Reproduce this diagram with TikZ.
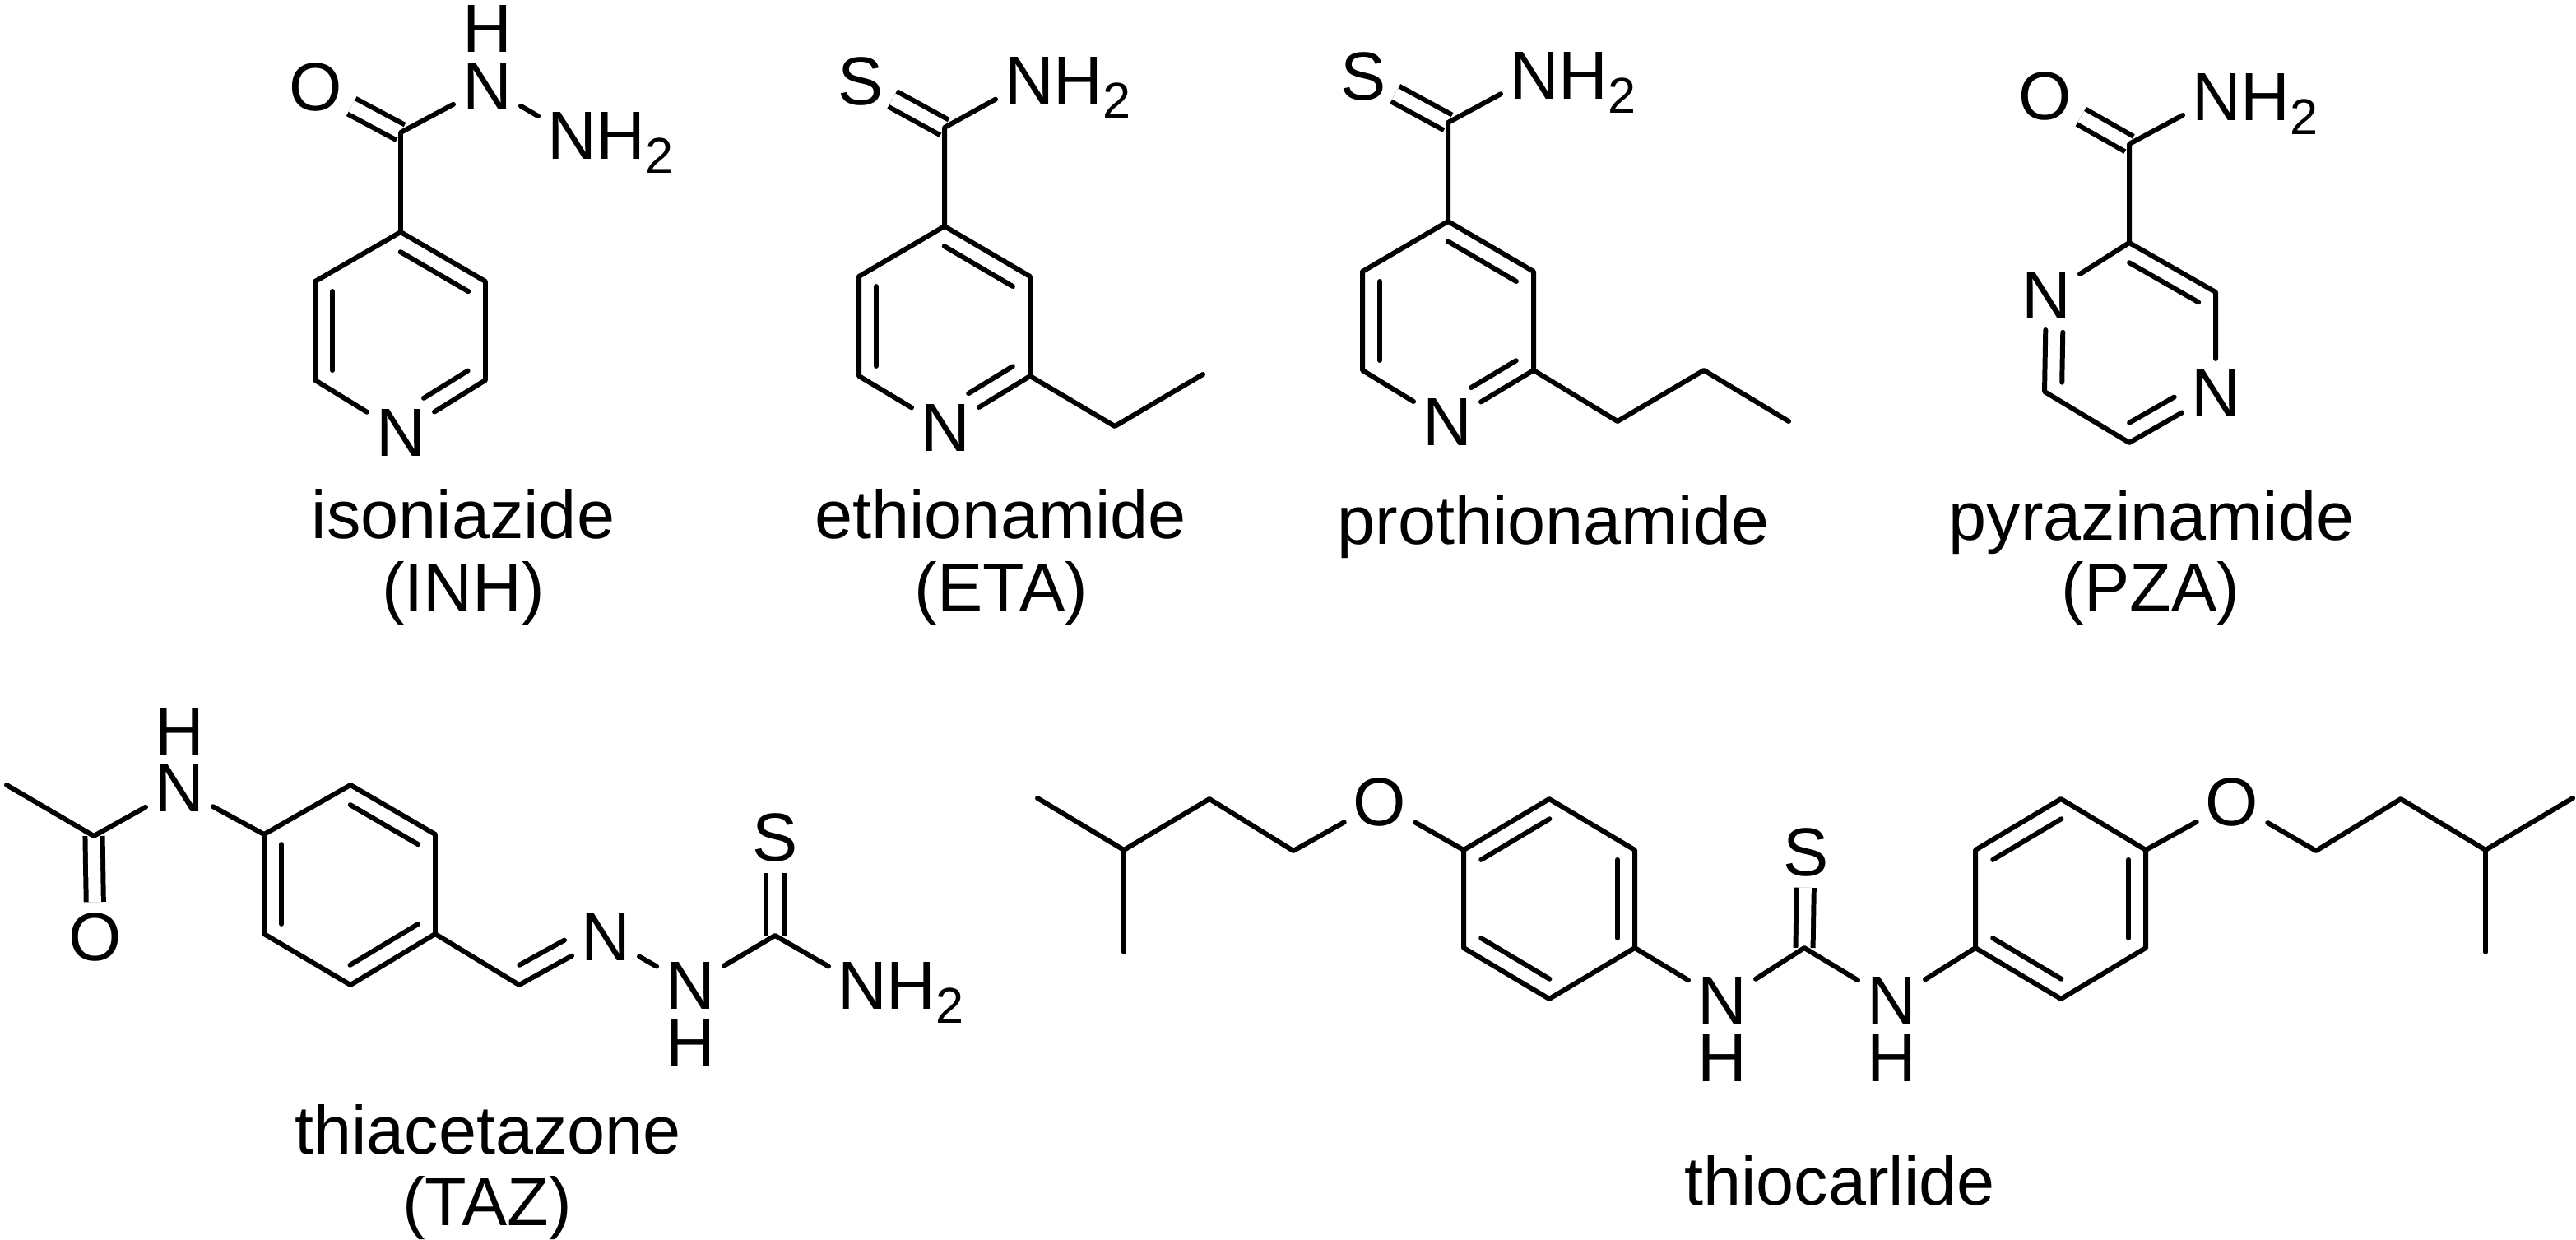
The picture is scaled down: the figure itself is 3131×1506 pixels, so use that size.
\documentclass[tikz,border=0pt]{standalone}
\usepackage{fontspec}
\setmainfont{Liberation Sans}
\usetikzlibrary{calc}
\newcommand*{\subtwo}{\smash{\raisebox{-0.17cm}{\fontsize{17.4pt}{18pt}\selectfont 2}}}
\newcommand*{\amine}{N\rlap{H\subtwo}}
% inner line of a ring bond, walking clockwise from #1 to #2
\newcommand*{\inbond}[4]{\draw ($(#1)!#3!(#2)!0.21cm!-90:(#2)$) -- ($(#2)!#4!(#1)!0.21cm!90:(#1)$);}

\begin{document}
\begin{tikzpicture}[x=0.01cm,y=-0.01cm,line width=1.7pt,line cap=round,line join=round,
      atom/.style={inner xsep=2.3pt,inner ysep=3pt,font=\fontsize{23.55pt}{26pt}\selectfont},
      caption/.style={anchor=base,inner sep=0pt,font=\fontsize{23.55pt}{26pt}\selectfont},
      dbl/.style={line cap=butt,double,double distance=4.3pt}]
      \useasboundingbox (0,0) rectangle (3131,1506);

      % isoniazide
      \coordinate (inh_1) at (487,282);  \coordinate (inh_2) at (590,342);
      \coordinate (inh_3) at (590,462);  \coordinate (inh_5) at (383,462);
      \coordinate (inh_6) at (383,342);  \coordinate (inh_c) at (487,161);
      \node[atom] (inh_4) at (487,526) {N};
      \node[atom] (inh_o) at (384,106) {O};
      \node[atom] (inh_n) at (592,105) {N};
      \node[atom] (inh_h) at (592,35) {H};
      \node[atom] (inh_a) at (695,165) {\amine};
      \draw[dbl] (inh_c) -- (inh_o);
      \draw (inh_6) -- (inh_1) -- (inh_2) -- (inh_3) -- (inh_4) -- (inh_5) -- (inh_6);
      \draw (inh_1) -- (inh_c) -- (inh_n) -- (inh_a);
      \inbond{inh_1}{inh_2}{.1}{.1}
      \inbond{inh_3}{inh_4}{.1}{.38}
      \inbond{inh_5}{inh_6}{.1}{.1}
      \node[caption] (inh_name) at (563,654) {isoniazide};
      \node[caption] (inh_abbr) at (563,742) {(INH)};

      % ethionamide
      \coordinate (eta_1) at (1148,275);  \coordinate (eta_2) at (1252,336);
      \coordinate (eta_3) at (1252,457);  \coordinate (eta_5) at (1044,457);
      \coordinate (eta_6) at (1044,336);  \coordinate (eta_c) at (1148,155);
      \coordinate (eta_7) at (1355,518);  \coordinate (eta_8) at (1462,455);
      \node[atom] (eta_4) at (1149,520) {N};
      \node[atom] (eta_s) at (1046,99) {S};
      \node[atom] (eta_a) at (1251,98) {\amine};
      \draw[dbl] (eta_c) -- (eta_s);
      \draw (eta_6) -- (eta_1) -- (eta_2) -- (eta_3) -- (eta_4) -- (eta_5) -- (eta_6);
      \draw (eta_1) -- (eta_c) -- (eta_a);
      \draw (eta_3) -- (eta_7) -- (eta_8);
      \inbond{eta_1}{eta_2}{.1}{.1}
      \inbond{eta_3}{eta_4}{.1}{.38}
      \inbond{eta_5}{eta_6}{.1}{.1}
      \node[caption] (eta_name) at (1216,654) {ethionamide};
      \node[caption] (eta_abbr) at (1217,742) {(ETA)};

      % prothionamide
      \coordinate (pto_1) at (1760,269);  \coordinate (pto_2) at (1864,330);
      \coordinate (pto_3) at (1864,450);  \coordinate (pto_5) at (1656,450);
      \coordinate (pto_6) at (1656,330);  \coordinate (pto_c) at (1760,149);
      \coordinate (pto_7) at (1966,512);  \coordinate (pto_8) at (2071,450);
      \coordinate (pto_9) at (2174,512);
      \node[atom] (pto_4) at (1759,513) {N};
      \node[atom] (pto_s) at (1657,93) {S};
      \node[atom] (pto_a) at (1865,92) {\amine};
      \draw[dbl] (pto_c) -- (pto_s);
      \draw (pto_6) -- (pto_1) -- (pto_2) -- (pto_3) -- (pto_4) -- (pto_5) -- (pto_6);
      \draw (pto_1) -- (pto_c) -- (pto_a);
      \draw (pto_3) -- (pto_7) -- (pto_8) -- (pto_9);
      \inbond{pto_1}{pto_2}{.1}{.1}
      \inbond{pto_3}{pto_4}{.1}{.38}
      \inbond{pto_5}{pto_6}{.1}{.1}
      \node[caption] (pto_name) at (1888,661) {prothionamide};

      % pyrazinamide
      \coordinate (pza_1) at (2588,295);  \coordinate (pza_2) at (2693,355);
      \coordinate (pza_4) at (2588,538);  \coordinate (pza_5) at (2485,476);
      \coordinate (pza_c) at (2588,175);
      \node[atom] (pza_3) at (2693,478) {N};
      \node[atom] (pza_6) at (2487,359) {N};
      \node[atom] (pza_o) at (2486,117) {O};
      \node[atom] (pza_a) at (2694,118) {\amine};
      \draw[dbl] (pza_c) -- (pza_o);
      \draw (pza_6) -- (pza_1) -- (pza_2) -- (pza_3) -- (pza_4) -- (pza_5) -- (pza_6);
      \draw (pza_1) -- (pza_c) -- (pza_a);
      \inbond{pza_1}{pza_2}{.1}{.1}
      \inbond{pza_3}{pza_4}{.38}{.1}
      \inbond{pza_5}{pza_6}{.1}{.38}
      \node[caption] (pza_name) at (2615,656) {pyrazinamide};
      \node[caption] (pza_abbr) at (2614,742) {(PZA)};

      % thiacetazone
      \coordinate (taz_1) at (426,954);   \coordinate (taz_2) at (529,1014);
      \coordinate (taz_3) at (529,1135);  \coordinate (taz_4) at (426,1197);
      \coordinate (taz_5) at (321,1135);  \coordinate (taz_6) at (321,1014);
      \coordinate (taz_c) at (114,1016);  \coordinate (taz_me) at (8,954);
      \coordinate (taz_ch) at (631,1197); \coordinate (taz_t) at (942,1137);
      \node[atom] (taz_n) at (218,958) {N};
      \node[atom] (taz_h) at (218,889) {H};
      \node[atom] (taz_o) at (116,1139) {O};
      \node[atom] (taz_im) at (736,1139) {N};
      \node[atom] (taz_nn) at (839,1198) {N};
      \node[atom] (taz_nh) at (839,1268) {H};
      \node[atom] (taz_s) at (942,1018) {S};
      \node[atom] (taz_a) at (1048,1198) {\amine};
      \draw[dbl] (taz_c) -- (taz_o);
      \draw[dbl] (taz_t) -- (taz_s);
      \draw (taz_1) -- (taz_2) -- (taz_3) -- (taz_4) -- (taz_5) -- (taz_6) -- cycle;
      \draw (taz_6) -- (taz_n) -- (taz_c) -- (taz_me);
      \draw (taz_3) -- (taz_ch) -- (taz_im) -- (taz_nn) -- (taz_t) -- (taz_a);
      \inbond{taz_1}{taz_2}{.1}{.1}
      \inbond{taz_3}{taz_4}{.1}{.1}
      \inbond{taz_5}{taz_6}{.1}{.1}
      \inbond{taz_im}{taz_ch}{.38}{.1}
      \node[caption] (taz_name) at (593,1402) {thiacetazone};
      \node[caption] (taz_abbr) at (592,1489) {(TAZ)};

      % thiocarlide
      \coordinate (tcl_1) at (1883,971);   \coordinate (tcl_2) at (1987,1033);
      \coordinate (tcl_3) at (1987,1152);  \coordinate (tcl_4) at (1883,1214);
      \coordinate (tcl_5) at (1779,1152);  \coordinate (tcl_6) at (1779,1033);
      \coordinate (tcr_1) at (2505,971);   \coordinate (tcr_2) at (2608,1033);
      \coordinate (tcr_3) at (2608,1152);  \coordinate (tcr_4) at (2505,1214);
      \coordinate (tcr_5) at (2401,1152);  \coordinate (tcr_6) at (2401,1033);
      \coordinate (tcl_a) at (1572,1034);  \coordinate (tcl_b) at (1470,971);
      \coordinate (tcl_c) at (1366,1033);  \coordinate (tcl_d) at (1261,970);
      \coordinate (tcl_e) at (1366,1157);
      \coordinate (tcr_a) at (2815,1034);  \coordinate (tcr_b) at (2918,971);
      \coordinate (tcr_c) at (3021,1033);  \coordinate (tcr_d) at (3127,970);
      \coordinate (tcr_e) at (3021,1157);
      \coordinate (tc_c) at (2193,1152);
      \node[atom] (tcl_o) at (1677,975) {O};
      \node[atom] (tcr_o) at (2713,975) {O};
      \node[atom] (tc_s) at (2195,1036) {S};
      \node[atom] (tcl_n) at (2093,1216) {N};
      \node[atom] (tcl_h) at (2093,1286) {H};
      \node[atom] (tcr_n) at (2299,1216) {N};
      \node[atom] (tcr_h) at (2299,1286) {H};
      \draw[dbl] (tc_c) -- (tc_s);
      \draw (tcl_1) -- (tcl_2) -- (tcl_3) -- (tcl_4) -- (tcl_5) -- (tcl_6) -- cycle;
      \draw (tcr_1) -- (tcr_2) -- (tcr_3) -- (tcr_4) -- (tcr_5) -- (tcr_6) -- cycle;
      \draw (tcl_6) -- (tcl_o) -- (tcl_a) -- (tcl_b) -- (tcl_c) -- (tcl_d);
      \draw (tcl_c) -- (tcl_e);
      \draw (tcr_2) -- (tcr_o) -- (tcr_a) -- (tcr_b) -- (tcr_c) -- (tcr_d);
      \draw (tcr_c) -- (tcr_e);
      \draw (tcl_3) -- (tcl_n) -- (tc_c) -- (tcr_n) -- (tcr_5);
      \foreach \ring in {tcl,tcr} {
        \inbond{\ring_6}{\ring_1}{.1}{.1}
        \inbond{\ring_2}{\ring_3}{.1}{.1}
        \inbond{\ring_4}{\ring_5}{.1}{.1}
      }
      \node[caption] (tc_name) at (2236,1464) {thiocarlide};
    \end{tikzpicture}
\end{document}
